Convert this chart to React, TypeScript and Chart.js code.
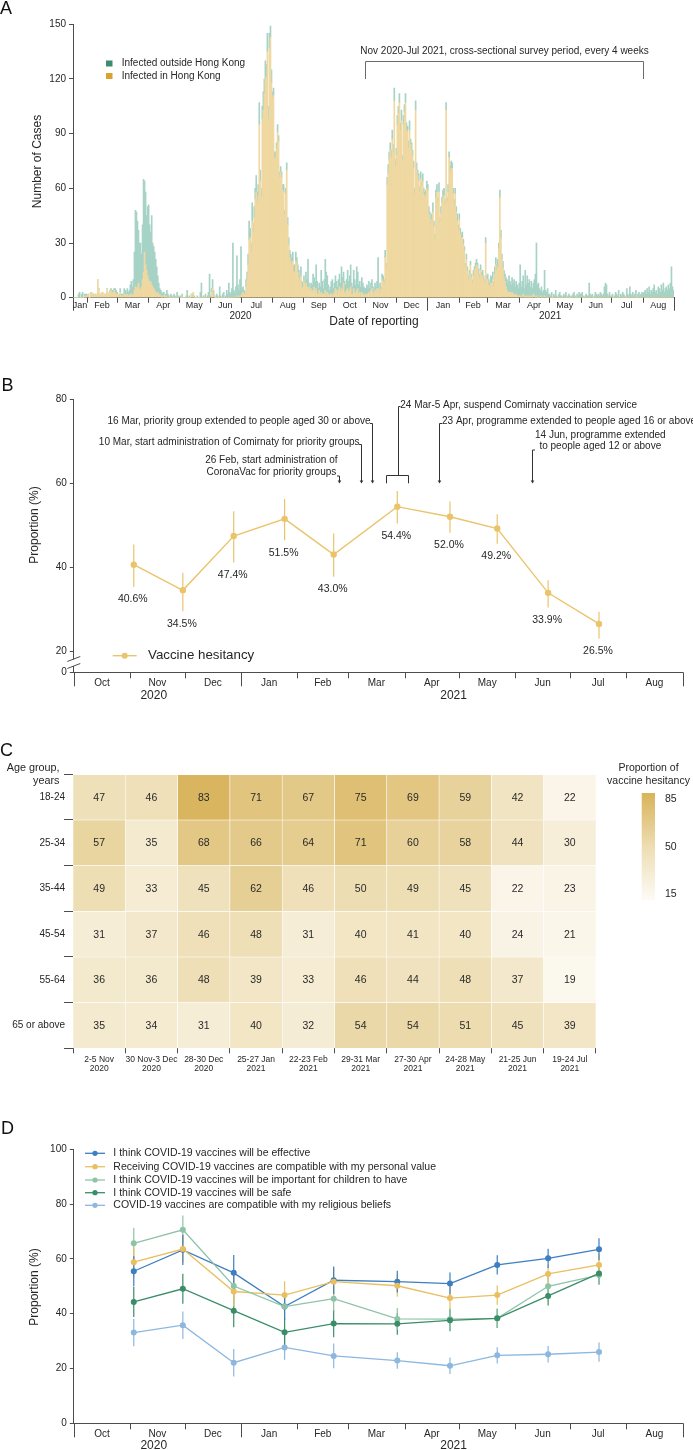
import React, { useEffect, useRef } from 'react';
import { Chart, registerables } from 'chart.js';

Chart.register(...registerables);

const FF = '"Liberation Sans", Arial, Helvetica, sans-serif';
const AXIS = '#4d4d4d';
const INK = '#262626';
const MONTHS = ['Jan', 'Feb', 'Mar', 'Apr', 'May', 'Jun', 'Jul', 'Aug', 'Sep', 'Oct', 'Nov', 'Dec'];

// ---------------- Panel A : daily reported cases ----------------
const casesStartDate = '2020-01-18';
const casesEndDate = '2021-09-01';
const surveyPeriodStart = '2020-11-01';
const surveyPeriodEnd = '2021-08-01';
const yTicksA = [0, 30, 60, 90, 120, 150];

const localCases2020 = [
  0, 0, 0, 0, 0, 0, 0, 0, 0, 0, 0, 1, 0, 1,
  1, 2, 0, 3, 3, 2, 1, 1, 2, 1, 10, 5, 2, 2, 3, 3, 1, 2, 2, 5, 3, 2, 3, 4, 2, 3, 4, 3, 2,
  2, 1, 1, 3, 1, 1, 1, 2, 2, 1, 2, 1, 1, 2, 2, 1, 2, 4, 6, 5, 6, 8, 5, 4, 6, 10, 14, 25, 18, 15, 12,
  10, 8, 9, 7, 6, 5, 4, 3, 2, 3, 1, 2, 1, 0, 1, 1, 0, 1, 0, 0, 0, 0, 0, 0, 0, 0, 0, 0, 0, 0,
  0, 0, 0, 0, 0, 0, 0, 0, 0, 0, 0, 0, 2, 0, 3, 0, 0, 0, 0, 0, 0, 0, 0, 0, 0, 0, 0, 0, 0, 0, 0,
  0, 3, 5, 1, 0, 0, 0, 0, 0, 0, 0, 0, 0, 0, 0, 0, 0, 0, 0, 0, 0, 0, 0, 0, 0, 0, 1, 0, 0, 1,
  1, 2, 3, 2, 2, 6, 10, 18, 32, 33, 25, 42, 36, 44, 54, 58, 52, 56, 95, 64, 55, 98, 103, 112, 120, 121, 135, 98, 137, 143, 118,
  110, 111, 76, 77, 82, 91, 86, 66, 69, 66, 59, 58, 45, 57, 70, 40, 29, 22, 20, 18, 20, 14, 14, 20, 18, 14, 11, 9, 12, 6, 5,
  9, 7, 8, 6, 5, 6, 3, 5, 3, 4, 6, 3, 5, 2, 2, 4, 2, 3, 2, 2, 2, 4, 1, 3, 2, 1, 2, 2, 1, 2,
  3, 5, 4, 2, 4, 6, 3, 5, 4, 8, 3, 2, 4, 5, 3, 4, 6, 2, 2, 5, 3, 2, 4, 5, 2, 3, 1, 3, 2, 1, 2,
  1, 2, 2, 3, 1, 4, 5, 3, 1, 4, 3, 5, 5, 2, 5, 3, 10, 9, 8, 22, 16, 62, 68, 76, 81, 77, 87, 80, 108, 72,
  78, 95, 101, 107, 92, 97, 75, 95, 102, 107, 92, 91, 82, 92, 84, 81, 78, 71, 57, 103, 70, 67, 64, 58, 65, 61, 64, 57, 55, 56, 60,
];
const importedCases2020 = [
  0, 0, 0, 0, 0, 2, 3, 0, 2, 3, 0, 1, 2, 1,
  0, 0, 0, 0, 0, 0, 1, 0, 0, 0, 0, 0, 0, 0, 0, 0, 0, 0, 0, 0, 0, 0, 1, 1, 2, 1, 1, 2, 2,
  1, 0, 1, 2, 1, 1, 1, 3, 2, 2, 3, 2, 3, 5, 7, 5, 8, 21, 42, 42, 36, 29, 25, 26, 18, 30, 51, 39, 40, 30, 38,
  41, 32, 27, 38, 24, 23, 21, 18, 15, 9, 7, 3, 3, 3, 1, 2, 1, 1, 4, 2, 1, 0, 2, 1, 0, 2, 1, 0, 3, 1,
  0, 1, 0, 2, 0, 0, 0, 1, 4, 0, 1, 0, 0, 2, 0, 1, 0, 0, 1, 0, 0, 3, 8, 0, 1, 0, 2, 0, 1, 3, 13,
  1, 2, 5, 3, 1, 0, 2, 1, 0, 6, 1, 0, 2, 3, 0, 1, 4, 2, 8, 3, 2, 5, 30, 4, 3, 6, 22, 7, 4, 9,
  27, 3, 3, 2, 1, 4, 4, 6, 10, 5, 5, 10, 5, 6, 6, 9, 6, 6, 12, 6, 5, 7, 10, 8, 10, 7, 10, 7, 8, 6, 7,
  3, 4, 4, 3, 3, 4, 3, 3, 3, 3, 3, 4, 3, 3, 4, 4, 4, 4, 4, 4, 5, 4, 4, 5, 4, 4, 4, 3, 5, 3, 3,
  3, 2, 6, 4, 16, 2, 3, 3, 4, 9, 5, 6, 13, 7, 3, 4, 4, 12, 7, 3, 8, 17, 13, 9, 5, 3, 4, 7, 9, 3,
  5, 7, 5, 4, 6, 7, 5, 12, 7, 6, 6, 5, 6, 10, 6, 8, 12, 6, 4, 10, 7, 5, 13, 9, 5, 6, 5, 8, 6, 5, 3,
  4, 5, 4, 6, 4, 4, 5, 3, 3, 4, 3, 4, 17, 3, 3, 3, 3, 3, 2, 4, 3, 4, 5, 4, 4, 4, 5, 4, 7, 4,
  4, 5, 4, 5, 4, 6, 3, 5, 4, 5, 4, 3, 4, 5, 3, 4, 3, 4, 3, 5, 4, 3, 4, 3, 4, 3, 4, 3, 3, 3, 4,
];
const localCases2021 = [
  59, 46, 44, 40, 43, 47, 39, 32, 55, 58, 52, 58, 41, 46, 52, 55, 56, 51, 103, 52, 58, 77, 68, 71, 71, 57, 50, 57, 47, 42, 37,
  43, 35, 33, 33, 29, 26, 17, 21, 15, 10, 12, 18, 11, 8, 12, 15, 16, 18, 17, 13, 11, 15, 12, 12, 10, 8, 30, 10,
  10, 7, 6, 8, 8, 10, 6, 13, 18, 15, 17, 27, 55, 33, 21, 16, 11, 9, 6, 4, 3, 3, 3, 2, 3, 2, 2, 1, 2, 1, 1,
  1, 1, 0, 1, 2, 0, 1, 0, 1, 0, 1, 0, 1, 0, 2, 1, 0, 1, 0, 0, 0, 1, 0, 0, 0, 1, 0, 0, 0, 0,
  0, 0, 0, 0, 0, 0, 0, 0, 0, 0, 0, 0, 0, 0, 0, 0, 0, 0, 0, 0, 0, 0, 0, 0, 0, 0, 0, 0, 0, 0, 0,
  0, 0, 0, 0, 0, 0, 0, 0, 0, 0, 0, 0, 0, 0, 0, 0, 0, 0, 0, 0, 0, 0, 0, 0, 0, 0, 0, 0, 0, 0,
  0, 0, 0, 0, 0, 0, 0, 0, 0, 0, 0, 0, 0, 0, 0, 0, 0, 0, 0, 0, 0, 0, 0, 0, 0, 0, 0, 0, 0, 0, 0,
  0, 0, 0, 0, 0, 0, 0, 0, 0, 0, 0, 0, 0, 0, 0, 0, 0, 0, 0, 0, 0, 0, 0, 0, 0, 0, 0, 0, 0, 0, 0,
];
const importedCases2021 = [
  3, 4, 3, 4, 3, 5, 3, 3, 4, 4, 3, 5, 3, 4, 3, 4, 4, 3, 4, 3, 4, 3, 4, 4, 3, 3, 4, 3, 3, 4, 3,
  3, 3, 2, 3, 3, 2, 2, 3, 2, 2, 3, 2, 2, 2, 3, 2, 3, 3, 2, 3, 2, 3, 2, 3, 2, 2, 3, 2,
  3, 3, 2, 4, 3, 4, 3, 4, 4, 3, 4, 3, 4, 4, 3, 4, 4, 4, 5, 6, 5, 9, 6, 5, 8, 6, 8, 5, 7, 6, 4,
  7, 17, 6, 8, 10, 5, 14, 7, 11, 8, 9, 6, 8, 5, 6, 9, 13, 29, 7, 8, 5, 3, 6, 3, 4, 14, 4, 3, 5, 2,
  2, 1, 3, 0, 2, 1, 4, 1, 0, 2, 3, 1, 1, 0, 2, 1, 3, 0, 1, 2, 1, 0, 1, 2, 3, 1, 0, 2, 1, 3, 2,
  2, 3, 1, 0, 1, 2, 1, 1, 8, 2, 1, 2, 0, 1, 3, 2, 1, 2, 1, 3, 2, 1, 2, 6, 8, 7, 2, 1, 3, 1,
  1, 2, 0, 1, 3, 2, 1, 4, 0, 2, 1, 3, 2, 1, 0, 5, 2, 1, 6, 2, 1, 3, 1, 2, 4, 0, 2, 3, 1, 2, 3,
  2, 3, 4, 2, 5, 3, 6, 2, 4, 3, 5, 7, 3, 4, 2, 6, 5, 3, 7, 4, 8, 3, 5, 6, 4, 7, 5, 8, 17, 6, 4,
];

// ---------------- Panel B : vaccine hesitancy ----------------
const bdStartDate = '2020-10-01';
const bdEndDate = '2021-09-01';
const surveyDates = ['2020-11-03', '2020-11-30', '2020-12-28', '2021-01-25', '2021-02-21', '2021-03-28', '2021-04-26', '2021-05-22', '2021-06-19', '2021-07-17'];
const hesitancy = [40.6, 34.5, 47.4, 51.5, 43.0, 54.4, 52.0, 49.2, 33.9, 26.5];
const hesitancyLow = [35.3, 29.5, 41.1, 46.4, 37.7, 50.4, 48.2, 45.6, 30.4, 23.0];
const hesitancyHigh = [45.4, 38.7, 53.3, 56.2, 48.0, 58.1, 55.6, 52.6, 36.9, 29.4];
const yTicksB = [15, 20, 40, 60, 80];
const vaccineEvents = [
  { date: '2021-02-24', lines: ['26 Feb, start administration of', 'CoronaVac for priority groups'], side: 'left', textY: [460.7, 472.7], lineTop: 476 },
  { date: '2021-03-08', lines: ['10 Mar, start administration of Comirnaty for priority groups'], side: 'left', textY: [442.7], lineTop: 444.5 },
  { date: '2021-03-14', lines: ['16 Mar, priority group extended to people aged 30 or above'], side: 'left', textY: [421.7], lineTop: 423.5 },
  { date: '2021-04-20', lines: ['23 Apr, programme extended to people aged 16 or above'], side: 'right', textY: [421.7], lineTop: 423.5 },
  { date: '2021-06-10', lines: ['14 Jun, programme extended', 'to people aged 12 or above'], side: 'right', textY: [435, 446.7], lineTop: 450 },
];
const suspension = { start: '2021-03-22', end: '2021-04-03', text: '24 Mar-5 Apr, suspend Comirnaty vaccination service' };

// ---------------- Panel C : heat map ----------------
const ageGroups = ['18-24', '25-34', '35-44', '45-54', '55-64', '65 or above'];
const surveyLabels = [
  ['2-5 Nov', '2020'], ['30 Nov-3 Dec', '2020'], ['28-30 Dec', '2020'], ['25-27 Jan', '2021'], ['22-23 Feb', '2021'],
  ['29-31 Mar', '2021'], ['27-30 Apr', '2021'], ['24-28 May', '2021'], ['21-25 Jun', '2021'], ['19-24 Jul', '2021'],
];
const heat18to24 = [47, 46, 83, 71, 67, 75, 69, 59, 42, 22];
const heat25to34 = [57, 35, 68, 66, 64, 71, 60, 58, 44, 30];
const heat35to44 = [49, 33, 45, 62, 46, 50, 49, 45, 22, 23];
const heat45to54 = [31, 37, 46, 48, 31, 40, 41, 40, 24, 21];
const heat55to64 = [36, 36, 48, 39, 33, 46, 44, 48, 37, 19];
const heat65plus = [35, 34, 31, 40, 32, 54, 54, 51, 45, 39];
const heatRows = [heat18to24, heat25to34, heat35to44, heat45to54, heat55to64, heat65plus];
const heatLegendTicks = [85, 50, 15];

// ---------------- Panel D : attitudes ----------------
const dEffective = [55.5, 63.3, 54.9, 42.6, 52.2, 51.7, 51.0, 57.8, 60.2, 63.5];
const dPersonal = [58.8, 63.6, 48.1, 46.8, 51.7, 50.2, 45.7, 46.8, 54.5, 57.8];
const dChildren = [65.7, 70.6, 50.1, 42.6, 45.5, 38.1, 38.0, 38.3, 50.0, 54.1];
const dSafe = [44.3, 49.1, 41.1, 33.2, 36.4, 36.3, 37.6, 38.3, 46.5, 54.7];
const dReligious = [33.1, 35.8, 22.1, 27.7, 24.6, 22.9, 21.0, 24.8, 25.2, 26.0];
const dEffectiveHalf = [5.5, 5.5, 6.5, 5, 5, 4, 4, 3.5, 3.5, 4];
const dPersonalHalf = [5.5, 5, 5.5, 5, 5, 4, 4, 3.5, 3.5, 4];
const dChildrenHalf = [5.7, 5.2, 5.5, 5, 4.5, 4, 4, 3.5, 3.5, 3.5];
const dSafeHalf = [5.5, 5.5, 6, 5, 5, 4, 4, 3.5, 3.5, 4];
const dReligiousHalf = [5, 5, 5, 4.5, 4.5, 3, 3, 3, 3, 3.5];
const dSeries = [
  { label: 'I think COVID-19 vaccines will be effective', values: dEffective, half: dEffectiveHalf, color: '#3d7fc0' },
  { label: 'Receiving COVID-19 vaccines are compatible with my personal value', values: dPersonal, half: dPersonalHalf, color: '#e9bf61' },
  { label: 'I think COVID-19 vaccines will be important for children to have', values: dChildren, half: dChildrenHalf, color: '#8ec3a7' },
  { label: 'I think COVID-19 vaccines will be safe', values: dSafe, half: dSafeHalf, color: '#3b8d69' },
  { label: 'COVID-19 vaccines are compatible with my religious beliefs', values: dReligious, half: dReligiousHalf, color: '#8db7df' },
];
const yTicksD = [0, 20, 40, 60, 80, 100];

// ---------------- helpers ----------------
function dayNum(s: string) {
  const [y, m, d] = s.split('-').map(Number);
  return Math.round(Date.UTC(y, m - 1, d) / 86400000);
}
function ymd(y: number, m: number, d: number) {
  return Math.round(Date.UTC(y, m - 1, d) / 86400000);
}
function text(ctx: any, s: string, x: number, y: number, size: number, align: any = 'center', opts: any = {}) {
  ctx.save();
  ctx.font = `${size}px ${FF}`;
  ctx.fillStyle = opts.color || INK;
  ctx.textAlign = align;
  ctx.textBaseline = opts.baseline || 'middle';
  if (opts.rotate) {
    ctx.translate(x, y);
    ctx.rotate(-Math.PI / 2);
    ctx.fillText(s, 0, 0);
  } else {
    ctx.fillText(s, x, y);
  }
  ctx.restore();
}
function line(ctx: any, pts: number[][], color = AXIS, w = 1) {
  ctx.save();
  ctx.strokeStyle = color;
  ctx.lineWidth = w;
  ctx.beginPath();
  pts.forEach((p, i) => (i ? ctx.lineTo(p[0], p[1]) : ctx.moveTo(p[0], p[1])));
  ctx.stroke();
  ctx.restore();
}

function monthAxisPlugin(cfg: any) {
  return {
    id: 'monthAxis',
    afterDraw(chart: any) {
      const ctx = chart.ctx;
      const xs = chart.scales.x;
      const yb = chart.chartArea.bottom;
      const px = (dn: number) => xs.getPixelForValue(cfg.toValue(dn));
      const s = dayNum(cfg.start);
      const e = dayNum(cfg.end);
      const tick = (x: number, len: number) => {
        const xx = Math.round(x) + 0.5;
        line(ctx, [[xx, yb], [xx, yb + len]]);
      };
      tick(px(s), cfg.longTick);
      let [y, m] = cfg.start.split('-').map(Number);
      for (let g = 0; g < 40; g++) {
        const segStart = Math.max(s, ymd(y, m, 1));
        const ny = m === 12 ? y + 1 : y;
        const nm = m === 12 ? 1 : m + 1;
        const next = ymd(ny, nm, 1);
        const segEnd = Math.min(e, next);
        text(ctx, MONTHS[m - 1], (px(segStart) + px(segEnd)) / 2, yb + cfg.monthDy, cfg.monthSize);
        if (next >= e) {
          tick(px(e), cfg.longTick);
          break;
        }
        tick(px(next), nm === 1 ? cfg.longTick : cfg.smallTick);
        y = ny;
        m = nm;
      }
      cfg.years.forEach((yl: any) => text(ctx, yl.text, px(dayNum(yl.date)), yb + cfg.yearDy, cfg.yearSize));
    },
  };
}

const errorBarPlugin = {
  id: 'errorBars',
  beforeDatasetsDraw(chart: any) {
    const ctx = chart.ctx;
    const ys = chart.scales.y;
    chart.data.datasets.forEach((ds: any, i: number) => {
      if (!ds.ciLow) return;
      const meta = chart.getDatasetMeta(i);
      meta.data.forEach((pt: any, j: number) => {
        line(ctx, [[pt.x, ys.getPixelForValue(ds.ciLow[j])], [pt.x, ys.getPixelForValue(ds.ciHigh[j])]], ds.ciColor || ds.borderColor, 1.2);
      });
    });
  },
};

function yAxis(min: number, max: number, ticks: number[], width: number, extra: any = {}) {
  return {
    min,
    max,
    afterBuildTicks: (s: any) => {
      s.ticks = ticks.map((v) => ({ value: v }));
    },
    ticks: { color: INK, font: { family: FF, size: 10 }, padding: 3, ...(extra.ticks || {}) },
    grid: { display: true, drawOnChartArea: false, drawTicks: true, tickLength: 4, tickColor: AXIS, color: AXIS },
    border: { display: true, color: AXIS, width: 1 },
    afterFit: (s: any) => {
      s.width = width;
    },
    stacked: !!extra.stacked,
  };
}

const baseA = dayNum(casesStartDate);
const baseBD = dayNum(bdStartDate);
const HES = '#eac46c';

function heatColor(v: number) {
  const stops = [
    [15, 253, 251, 246],
    [50, 237, 221, 178],
    [85, 217, 179, 90],
  ];
  const t = Math.max(15, Math.min(85, v));
  const k = t <= 50 ? 0 : 1;
  const a = stops[k];
  const b = stops[k + 1];
  const f = (t - a[0]) / (b[0] - a[0]);
  const c = [1, 2, 3].map((i) => Math.round(a[i] + (b[i] - a[i]) * f));
  return `rgb(${c[0]},${c[1]},${c[2]})`;
}

// ---------------- chart builders ----------------
function buildA(canvas: HTMLCanvasElement) {
  const localCases = [...localCases2020, ...localCases2021];
  const importedCases = [...importedCases2020, ...importedCases2021];
  const labels = localCases.map((_, i) => String(i));
  const toValue = (dn: number) => dn - baseA - 0.5;
  const overlay = {
    id: 'overlayA',
    afterDraw(chart: any) {
      const ctx = chart.ctx;
      const xs = chart.scales.x;
      text(ctx, 'A', 0, 13.5, 18, 'left', { baseline: 'alphabetic', color: '#111' });
      text(ctx, 'Number of Cases', 37.7, 161.5, 12, 'center', { rotate: true });
      text(ctx, 'Date of reporting', 374, 322, 12);
      ctx.save();
      ctx.fillStyle = '#3d8c6e';
      ctx.fillRect(106, 60.5, 6.5, 6);
      ctx.fillStyle = '#d9a233';
      ctx.fillRect(106, 73, 6.5, 6);
      ctx.restore();
      text(ctx, 'Infected outside Hong Kong', 121.7, 63.5, 10, 'left');
      text(ctx, 'Infected in Hong Kong', 121.7, 76, 10, 'left');
      const x1 = Math.round(xs.getPixelForValue(toValue(dayNum(surveyPeriodStart)))) + 0.5;
      const x2 = Math.round(xs.getPixelForValue(toValue(dayNum(surveyPeriodEnd)))) + 0.5;
      line(ctx, [[x1, 79], [x1, 61.5], [x2, 61.5], [x2, 79]], '#6b6b6b', 1);
      text(ctx, 'Nov 2020-Jul 2021, cross-sectional survey period, every 4 weeks', (x1 + x2) / 2, 51, 10);
    },
  };
  return new Chart(canvas, {
    type: 'bar',
    data: {
      labels,
      datasets: [
        { label: 'Infected in Hong Kong', data: localCases, backgroundColor: '#efd8a1', stack: 'c' },
        { label: 'Infected outside Hong Kong', data: importedCases, backgroundColor: '#a6d3c5', stack: 'c' },
      ],
    },
    options: {
      responsive: false,
      animation: false,
      layout: { padding: { top: 24.3, right: 19, bottom: 0, left: 0 } },
      datasets: { bar: { barPercentage: 1, categoryPercentage: 1 } },
      plugins: { legend: { display: false }, tooltip: { enabled: false } },
      scales: {
        x: {
          stacked: true,
          ticks: { display: false },
          grid: { display: false },
          border: { display: true, color: AXIS },
          afterFit: (s: any) => {
            s.height = 32.3;
          },
        },
        y: yAxis(0, 150, yTicksA, 73, { stacked: true }),
      },
    } as any,
    plugins: [
      monthAxisPlugin({
        start: casesStartDate, end: casesEndDate, toValue, smallTick: 5, longTick: 13,
        monthDy: 7.5, monthSize: 9, yearDy: 19, yearSize: 10,
        years: [{ text: '2020', date: '2020-07-01' }, { text: '2021', date: '2021-05-02' }],
      }),
      overlay,
    ],
  });
}

function buildB(canvas: HTMLCanvasElement) {
  const xs = surveyDates.map((d) => dayNum(d) - baseBD);
  const endX = dayNum(bdEndDate) - baseBD;
  const top = 330;
  const overlay = {
    id: 'overlayB',
    afterDraw(chart: any) {
      const ctx = chart.ctx;
      const sx = chart.scales.x;
      const sy = chart.scales.y;
      const X = (d: string) => sx.getPixelForValue(dayNum(d) - baseBD);
      const Y = (py: number) => py - top;
      text(ctx, 'B', 1.5, Y(390.5), 18, 'left', { baseline: 'alphabetic', color: '#111' });
      text(ctx, 'Proportion (%)', 35, Y(525), 12, 'center', { rotate: true });
      // axis break
      const ax = chart.chartArea.left;
      ctx.save();
      ctx.fillStyle = '#fff';
      ctx.fillRect(ax - 2, Y(659.5), 4, 6.5);
      ctx.restore();
      line(ctx, [[ax - 6.5, Y(661.5)], [ax + 6.5, Y(656.5)]], AXIS, 1);
      line(ctx, [[ax - 6.5, Y(668.5)], [ax + 6.5, Y(663.5)]], AXIS, 1);
      // legend
      line(ctx, [[112.7, Y(655.7)], [136.7, Y(655.7)]], HES, 1.4);
      ctx.save();
      ctx.fillStyle = HES;
      ctx.beginPath();
      ctx.arc(124.7, Y(655.7), 3, 0, Math.PI * 2);
      ctx.fill();
      ctx.restore();
      text(ctx, 'Vaccine hesitancy', 148, Y(655.7), 13.3, 'left');
      // value labels
      const meta = chart.getDatasetMeta(0);
      meta.data.forEach((pt: any, j: number) => {
        text(ctx, hesitancy[j].toFixed(1) + '%', pt.x - 1, sy.getPixelForValue(hesitancyLow[j]) + 12.5, 10.5);
      });
      // event annotations
      const tipY = Y(483.5);
      const arrow = (x: number, y0: number) => {
        line(ctx, [[x, y0], [x, tipY - 2]], '#333', 1);
        ctx.save();
        ctx.fillStyle = '#333';
        ctx.beginPath();
        ctx.moveTo(x - 1.8, tipY - 3);
        ctx.lineTo(x + 1.8, tipY - 3);
        ctx.lineTo(x, tipY);
        ctx.closePath();
        ctx.fill();
        ctx.restore();
      };
      ctx.save();
      ctx.font = `10px ${FF}`;
      vaccineEvents.forEach((ev) => {
        const x = Math.round(X(ev.date)) + 0.5;
        const w = Math.max(...ev.lines.map((l) => ctx.measureText(l).width));
        const cx = ev.side === 'left' ? x - 2 - w / 2 : x + 2.5 + w / 2;
        ev.lines.forEach((l, k) => text(ctx, l, cx, Y(ev.textY[k]), 10));
        const yTop = Y(ev.lineTop);
        line(ctx, [[ev.side === 'left' ? x - 2.5 : x + 2.5, yTop], [x, yTop]], '#333', 1);
        arrow(x, yTop);
      });
      ctx.restore();
      const b1 = Math.round(X(suspension.start)) + 0.5;
      const b2 = Math.round(X(suspension.end)) + 0.5;
      const bm = Math.round((b1 + b2) / 2) + 0.5;
      line(ctx, [[b1, Y(483.3)], [b1, Y(475.5)], [b2, Y(475.5)], [b2, Y(483.3)]], '#333', 1);
      line(ctx, [[bm + 2, Y(406.5)], [bm, Y(406.5)], [bm, Y(475.5)]], '#333', 1);
      text(ctx, suspension.text, bm + 1.8, Y(405), 10, 'left');
    },
  };
  return new Chart(canvas, {
    type: 'line',
    data: {
      datasets: [
        {
          label: 'Vaccine hesitancy',
          data: xs.map((x, i) => ({ x, y: hesitancy[i] })),
          borderColor: HES,
          backgroundColor: HES,
          pointRadius: 3.2,
          pointBorderWidth: 0,
          borderWidth: 1.4,
          ciLow: hesitancyLow,
          ciHigh: hesitancyHigh,
        } as any,
      ],
    },
    options: {
      responsive: false,
      animation: false,
      layout: { padding: { top: 69, right: 10.4, bottom: 0, left: 0 } },
      plugins: { legend: { display: false }, tooltip: { enabled: false } },
      scales: {
        x: {
          type: 'linear',
          min: 0,
          max: endX,
          ticks: { display: false },
          grid: { display: false },
          border: { display: true, color: AXIS },
          afterFit: (s: any) => {
            s.height = 32.7;
          },
        },
        y: yAxis(15, 80, yTicksB, 73.8, { ticks: { callback: (v: number) => (v === 15 ? '0' : String(v)) } }),
      },
    } as any,
    plugins: [
      errorBarPlugin,
      monthAxisPlugin({
        start: bdStartDate, end: bdEndDate, toValue: (dn: number) => dn - baseBD, smallTick: 6, longTick: 14,
        monthDy: 11, monthSize: 10, yearDy: 23.5, yearSize: 12,
        years: [{ text: '2020', date: '2020-11-14' }, { text: '2021', date: '2021-04-28' }],
      }),
      overlay,
    ],
  });
}

function buildC(canvas: HTMLCanvasElement) {
  const top = 705;
  const Y = (py: number) => py - top;
  const overlay = {
    id: 'overlayC',
    afterDatasetsDraw(chart: any) {
      const ctx = chart.ctx;
      chart.data.datasets.forEach((ds: any, i: number) => {
        const meta = chart.getDatasetMeta(i);
        meta.data.forEach((el: any, j: number) => {
          text(ctx, String(ds.values[j]), el.x, (el.y + el.base) / 2 + 0.5, 10.5, 'center', { color: '#2a2a2a' });
        });
      });
    },
    afterDraw(chart: any) {
      const ctx = chart.ctx;
      text(ctx, 'C', 0, Y(755.5), 18, 'left', { baseline: 'alphabetic', color: '#111' });
      text(ctx, 'Age group,', 59.5, Y(768), 10.8, 'right');
      text(ctx, 'years', 59.5, Y(781), 10.8, 'right');
      text(ctx, 'Proportion of', 648.5, Y(768.3), 10.5);
      text(ctx, 'vaccine hesitancy', 648.5, Y(781), 10.5);
      const gx = 641.7;
      const gTop = Y(793);
      const gBot = Y(900);
      const grad = ctx.createLinearGradient(0, gTop, 0, gBot);
      [85, 67.5, 50, 32.5, 15].forEach((v) => grad.addColorStop((85 - v) / 70, heatColor(v)));
      ctx.save();
      ctx.fillStyle = grad;
      ctx.fillRect(gx, gTop, 13.3, gBot - gTop);
      ctx.restore();
      const labelY = [799, 846.7, 894];
      heatLegendTicks.forEach((v, k) => text(ctx, String(v), 665, Y(labelY[k]), 10.5, 'left'));
    },
  };
  return new Chart(canvas, {
    type: 'bar',
    data: {
      labels: surveyLabels,
      datasets: heatRows.map((row, r) => ({
        label: ageGroups[r],
        data: row.map(() => [r, r + 1]),
        values: row,
        backgroundColor: row.map(heatColor),
        borderColor: '#ffffff',
        borderWidth: 0.6,
        borderSkipped: false,
      })) as any,
    },
    options: {
      responsive: false,
      animation: false,
      layout: { padding: { top: 69.3, right: 97, bottom: 0, left: 0 } },
      datasets: { bar: { barPercentage: 1, categoryPercentage: 1, grouped: false } },
      plugins: { legend: { display: false }, tooltip: { enabled: false } },
      scales: {
        x: {
          ticks: { color: INK, font: { family: FF, size: 8.5, lineHeight: 1.15 }, padding: 1, maxRotation: 0, autoSkip: false },
          grid: { display: true, drawOnChartArea: false, offset: true, tickLength: 5, tickColor: AXIS },
          border: { display: false },
          afterFit: (s: any) => {
            s.height = 41.7;
          },
        },
        y: {
          min: 0,
          max: 6,
          reverse: true,
          afterBuildTicks: (s: any) => {
            const t = [];
            for (let i = 0; i <= 12; i++) t.push({ value: i / 2 });
            s.ticks = t;
          },
          ticks: {
            color: INK,
            font: { family: FF, size: 10 },
            padding: -1,
            callback: (v: number) => (Number.isInteger(v) ? '' : ageGroups[Math.floor(v)]),
          },
          grid: {
            display: true,
            drawOnChartArea: false,
            tickLength: 9,
            tickColor: (c: any) => (c.tick && Number.isInteger(c.tick.value) ? AXIS : 'rgba(0,0,0,0)'),
          },
          border: { display: false },
          afterFit: (s: any) => {
            s.width = 73;
          },
        },
      },
    } as any,
    plugins: [overlay],
  });
}

function buildD(canvas: HTMLCanvasElement) {
  const top = 1090;
  const Y = (py: number) => py - top;
  const xs = surveyDates.map((d) => dayNum(d) - baseBD);
  const endX = dayNum(bdEndDate) - baseBD;
  const overlay = {
    id: 'overlayD',
    afterDraw(chart: any) {
      const ctx = chart.ctx;
      text(ctx, 'D', 1, Y(1133.5), 18, 'left', { baseline: 'alphabetic', color: '#111' });
      text(ctx, 'Proportion (%)', 35, Y(1287), 12, 'center', { rotate: true });
      const rows = [1153.3, 1166.7, 1180, 1192.7, 1205.3];
      dSeries.forEach((s, k) => {
        const yy = Y(rows[k]);
        line(ctx, [[85, yy], [105, yy]], s.color, 1.3);
        ctx.save();
        ctx.fillStyle = s.color;
        ctx.beginPath();
        ctx.arc(95, yy, 2.6, 0, Math.PI * 2);
        ctx.fill();
        ctx.restore();
        text(ctx, s.label, 113.3, yy, 10.5, 'left');
      });
    },
  };
  return new Chart(canvas, {
    type: 'line',
    data: {
      datasets: dSeries
        .map((s) => ({
          label: s.label,
          data: xs.map((x, i) => ({ x, y: s.values[i] })),
          borderColor: s.color,
          backgroundColor: s.color,
          pointRadius: 3,
          pointBorderWidth: 0,
          borderWidth: 1.3,
          ciLow: s.values.map((v, i) => v - s.half[i]),
          ciHigh: s.values.map((v, i) => v + s.half[i]),
        }))
        .reverse() as any,
    },
    options: {
      responsive: false,
      animation: false,
      layout: { padding: { top: 59.3, right: 10.4, bottom: 0, left: 0 } },
      plugins: { legend: { display: false }, tooltip: { enabled: false } },
      scales: {
        x: {
          type: 'linear',
          min: 0,
          max: endX,
          ticks: { display: false },
          grid: { display: false },
          border: { display: true, color: AXIS },
          afterFit: (s: any) => {
            s.height = 26.7;
          },
        },
        y: yAxis(0, 100, yTicksD, 73.8),
      },
    } as any,
    plugins: [
      errorBarPlugin,
      monthAxisPlugin({
        start: bdStartDate, end: bdEndDate, toValue: (dn: number) => dn - baseBD, smallTick: 6, longTick: 14,
        monthDy: 10.5, monthSize: 10, yearDy: 22, yearSize: 12,
        years: [{ text: '2020', date: '2020-11-14' }, { text: '2021', date: '2021-04-28' }],
      }),
      overlay,
    ],
  });
}

function Panel({ top, height, build }: { top: number; height: number; build: (c: HTMLCanvasElement) => Chart }) {
  const ref = useRef<HTMLCanvasElement | null>(null);
  useEffect(() => {
    const chart = build(ref.current as HTMLCanvasElement);
    return () => chart.destroy();
  }, []);
  return (
    <canvas
      ref={ref}
      width={693}
      height={height}
      style={{ position: 'absolute', left: 0, top, width: 693, height, display: 'block' }}
    />
  );
}

export default function App() {
  return (
    <div style={{ position: 'absolute', left: 0, top: 0, width: 693, height: 1450, background: '#ffffff', overflow: 'hidden' }}>
      <Panel top={0} height={330} build={buildA} />
      <Panel top={330} height={375} build={buildB} />
      <Panel top={705} height={385} build={buildC} />
      <Panel top={1090} height={360} build={buildD} />
    </div>
  );
}
